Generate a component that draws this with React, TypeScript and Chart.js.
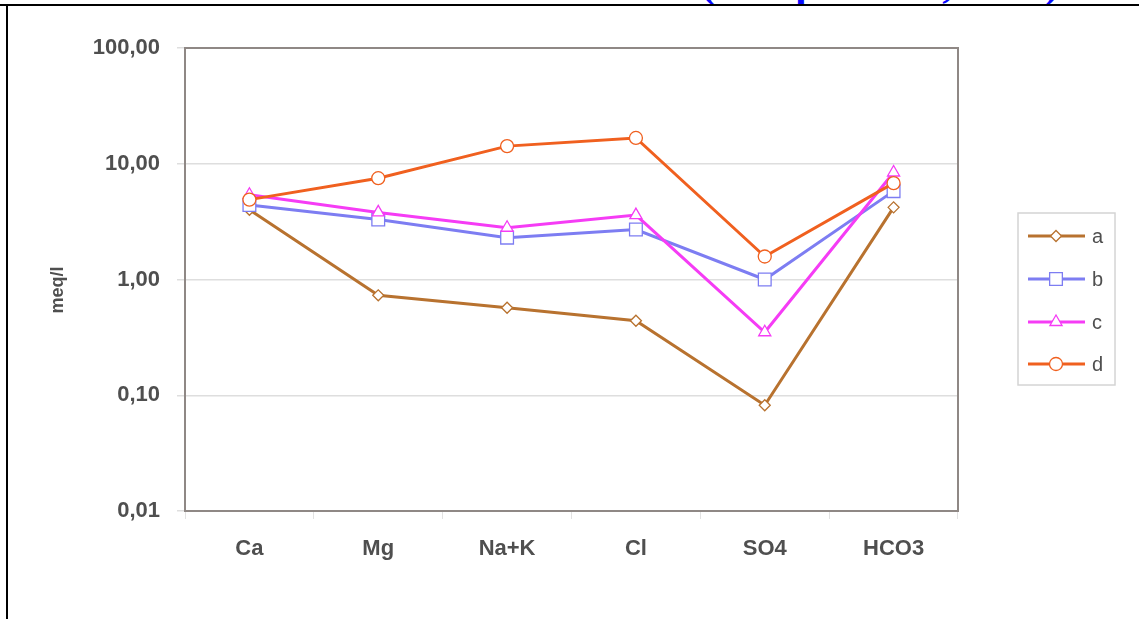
import React, { useEffect, useRef } from "react";
import { Chart, registerables } from "chart.js";

Chart.register(...registerables);

const categories = ["Ca", "Mg", "Na+K", "Cl", "SO4", "HCO3"];
const seriesA = [4.0, 0.73, 0.57, 0.44, 0.082, 4.2];
const seriesB = [4.4, 3.3, 2.3, 2.7, 1.0, 5.8];
const seriesC = [5.4, 3.8, 2.8, 3.6, 0.35, 8.4];
const seriesD = [4.9, 7.5, 14.2, 16.7, 1.58, 6.8];
const seriesNames = ["a", "b", "c", "d"];
const yTicks = [0.01, 0.1, 1, 10, 100];
const yTitle = "meq/l";

const FONT = "'Liberation Sans', Arial, sans-serif";
const TEXT = "#4f4f4f";

function drawMarker(ctx: CanvasRenderingContext2D, style: string, x: number, y: number, r: number) {
  ctx.beginPath();
  if (style === "circle") {
    ctx.arc(x, y, r, 0, Math.PI * 2);
  } else if (style === "rect") {
    const s = r * Math.SQRT1_2;
    ctx.rect(x - s, y - s, 2 * s, 2 * s);
  } else if (style === "rectRot") {
    ctx.moveTo(x, y - r);
    ctx.lineTo(x + r, y);
    ctx.lineTo(x, y + r);
    ctx.lineTo(x - r, y);
    ctx.closePath();
  } else if (style === "triangle") {
    ctx.moveTo(x, y - r);
    ctx.lineTo(x + r * Math.sin(Math.PI / 3), y + r * 0.5);
    ctx.lineTo(x - r * Math.sin(Math.PI / 3), y + r * 0.5);
    ctx.closePath();
  }
  ctx.fill();
  ctx.stroke();
}

const framePlugin = {
  id: "frame",
  beforeDatasetsDraw(chart: any) {
    const { ctx, chartArea } = chart;
    ctx.save();
    ctx.strokeStyle = "#8f8885";
    ctx.lineWidth = 2;
    ctx.beginPath();
    ctx.moveTo(chartArea.left, chartArea.top);
    ctx.lineTo(chartArea.right, chartArea.top);
    ctx.lineTo(chartArea.right, chartArea.bottom);
    ctx.stroke();
    ctx.restore();
  },
  afterDraw(chart: any) {
    const { ctx } = chart;
    ctx.save();
    ctx.translate(58, 290);
    ctx.rotate(-Math.PI / 2);
    ctx.fillStyle = TEXT;
    ctx.font = `bold 18px ${FONT}`;
    ctx.textAlign = "center";
    ctx.textBaseline = "middle";
    ctx.fillText(yTitle, 0, 0);
    ctx.restore();
  },
};

const legendPlugin = {
  id: "boxLegend",
  afterDraw(chart: any) {
    const { ctx } = chart;
    const bx = 1018, by = 213, bw = 97, bh = 172;
    ctx.save();
    ctx.strokeStyle = "#d4d4d4";
    ctx.lineWidth = 1.5;
    ctx.strokeRect(bx, by, bw, bh);
    const rows = [236, 279, 322, 364];
    chart.data.datasets.forEach((ds: any, i: number) => {
      const y = rows[i];
      ctx.strokeStyle = ds.borderColor;
      ctx.lineWidth = ds.borderWidth;
      ctx.beginPath();
      ctx.moveTo(1028, y);
      ctx.lineTo(1085, y);
      ctx.stroke();
      ctx.fillStyle = "#ffffff";
      ctx.lineWidth = ds.pointBorderWidth;
      drawMarker(ctx, ds.pointStyle, 1056, y, ds.pointRadius);
      ctx.fillStyle = TEXT;
      ctx.font = `20px ${FONT}`;
      ctx.textBaseline = "middle";
      ctx.textAlign = "left";
      ctx.fillText(ds.label, 1092, y + 1);
    });
    ctx.restore();
  },
};

export default function App() {
  const ref = useRef<HTMLCanvasElement | null>(null);

  useEffect(() => {
    document.body.style.margin = "0";
    if (!ref.current) return;
    const mk = (i: number, data: number[], color: string, style: string, r: number) => ({
      label: seriesNames[i],
      data,
      borderColor: color,
      backgroundColor: "#ffffff",
      borderWidth: 3,
      pointStyle: style,
      pointRadius: r,
      pointBorderWidth: 1.3,
      pointBackgroundColor: "#ffffff",
      pointBorderColor: color,
      order: 4 - i,
      tension: 0,
    });
    const chart = new Chart(ref.current, {
      type: "line",
      data: {
        labels: categories,
        datasets: [
          mk(0, seriesA, "#b8722f", "rectRot", 5.5),
          mk(1, seriesB, "#7d7df2", "rect", 9),
          mk(2, seriesC, "#f53cf5", "triangle", 7),
          mk(3, seriesD, "#f0601f", "circle", 6.5),
        ] as any,
      },
      options: {
        responsive: false,
        animation: false,
        layout: { padding: { top: 48, right: 181, left: 0, bottom: 0 } },
        plugins: { legend: { display: false }, tooltip: { enabled: false } },
        scales: {
          x: {
            type: "category",
            offset: true,
            grid: { offset: true, drawOnChartArea: false, drawTicks: true, tickLength: 8, color: "#e2e2e2" },
            border: { display: true, color: "#8f8885", width: 2 },
            ticks: { font: { family: FONT, size: 22, weight: "bold" }, color: TEXT, padding: 17 },
            afterFit: (s: any) => { s.height = 108; },
          },
          y: {
            type: "logarithmic",
            min: 0.01,
            max: 100,
            afterBuildTicks: (s: any) => { s.ticks = yTicks.map((v) => ({ value: v })); },
            grid: { color: "#dedede", lineWidth: 1.5, tickLength: 8 },
            border: { display: true, color: "#8f8885", width: 2 },
            ticks: {
              font: { family: FONT, size: 22, weight: "bold" },
              color: TEXT,
              padding: 17,
              callback: (v: any) => Number(v).toFixed(2).replace(".", ","),
            },
            afterFit: (s: any) => { s.width = 185; },
          },
        },
      } as any,
      plugins: [framePlugin, legendPlugin],
    });
    return () => chart.destroy();
  }, []);

  return (
    <div style={{ position: "fixed", left: 0, top: 0, width: 1139, height: 619, background: "#fff", overflow: "hidden" }}>
      <div
        style={{
          position: "absolute",
          left: 701,
          top: -38,
          font: "bold 42px 'Liberation Serif', serif",
          color: "#0a0aff",
          whiteSpace: "nowrap",
          lineHeight: "42px",
        }}
      >
        (Tampubolon, 2011)
      </div>
      <div style={{ position: "absolute", left: 0, top: 4, width: 1139, height: 2, background: "#000" }} />
      <div style={{ position: "absolute", left: 6, top: 4, width: 2, height: 615, background: "#000" }} />
      <canvas ref={ref} width={1139} height={619} style={{ position: "absolute", left: 0, top: 0 }} />
    </div>
  );
}
